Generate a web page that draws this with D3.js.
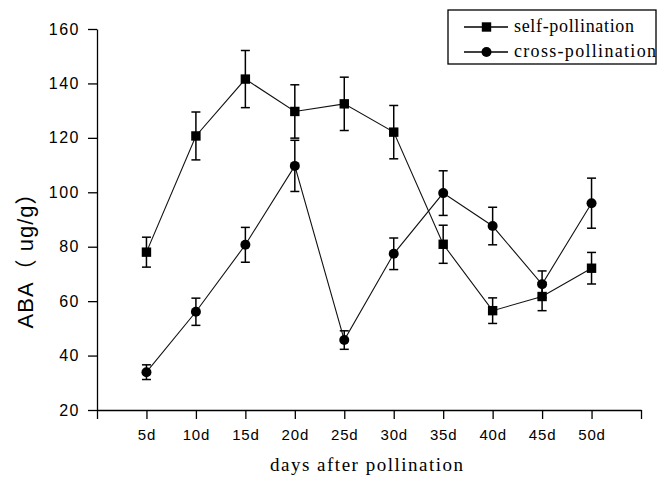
<!DOCTYPE html>
<html>
<head>
<meta charset="utf-8">
<script src="https://cdn.jsdelivr.net/npm/d3@7"></script>
<style>
  html, body { margin: 0; padding: 0; background: #fff; }
  svg { display: block; }
</style>
</head>
<body>
<svg id="chart" width="657" height="477"></svg>
<script>
const categories = ["5d", "10d", "15d", "20d", "25d", "30d", "35d", "40d", "45d", "50d"];
const selfVals  = [78.0, 120.7, 141.6, 129.7, 132.5, 122.1, 80.9, 56.5, 61.7, 72.1];
const selfErr   = [5.5, 8.8, 10.5, 9.8, 9.8, 9.8, 7.0, 4.7, 5.2, 5.8];
const crossVals = [33.9, 56.1, 80.7, 109.7, 45.7, 77.4, 99.7, 87.6, 66.2, 96.0];
const crossErr  = [2.7, 5.0, 6.4, 9.4, 3.4, 5.8, 8.2, 6.9, 4.9, 9.2];
const yTicks = [20, 40, 60, 80, 100, 120, 140, 160];
const seriesNames = ["self-pollination", "cross-pollination"];
const yTitle = "ABA（ ug/g）";
const xTitle = "days after pollination";

const svg = d3.select("#chart");
const sans = "'Liberation Sans', Arial, 'Noto Sans CJK SC', sans-serif";
const serif = "'Liberation Serif', 'Times New Roman', serif";

const x = d3.scaleLinear().domain([0, categories.length + 1]).range([97, 641]);
const y = d3.scaleLinear().domain([20, 160]).range([410, 29]);

// X axis
const xAxis = d3.axisBottom(x)
  .tickValues(d3.range(0, categories.length + 2))
  .tickFormat(i => (i >= 1 && i <= categories.length) ? categories[i - 1] : "")
  .tickSize(9).tickSizeOuter(0).tickPadding(10);
const gx = svg.append("g").attr("transform", `translate(0,${y(20)})`).call(xAxis);
gx.selectAll("path, line").attr("stroke", "#000").attr("stroke-width", 1.3);
gx.selectAll("text").attr("font-family", sans).attr("font-size", 15).attr("fill", "#000")
  .attr("letter-spacing", 0.8);

// Y axis
const yAxis = d3.axisLeft(y).tickValues(yTicks).tickSize(9).tickSizeOuter(0).tickPadding(8);
const gy = svg.append("g").attr("transform", `translate(${x(0)},0)`).call(yAxis);
gy.selectAll("path, line").attr("stroke", "#000").attr("stroke-width", 1.3);
gy.selectAll("text").attr("font-family", sans).attr("font-size", 16).attr("fill", "#000")
  .attr("letter-spacing", 1.5);

// Titles
svg.append("text")
  .attr("transform", `translate(33,255) rotate(-90)`)
  .attr("text-anchor", "middle")
  .attr("font-family", sans).attr("font-size", 22).attr("fill", "#000")
  .attr("letter-spacing", 1)
  .text(yTitle);
svg.append("text")
  .attr("x", 270).attr("y", 471)
  .attr("font-family", serif).attr("font-size", 19).attr("fill", "#000")
  .attr("textLength", 193).attr("lengthAdjust", "spacing")
  .text(xTitle);

// Series
const series = [
  { name: seriesNames[0], vals: selfVals, err: selfErr, shape: "square" },
  { name: seriesNames[1], vals: crossVals, err: crossErr, shape: "circle" }
];
const line = d3.line().x((d, i) => x(i + 1)).y(d => y(d));

series.forEach(s => {
  const g = svg.append("g");
  g.append("path").datum(s.vals).attr("d", line)
    .attr("fill", "none").attr("stroke", "#111").attr("stroke-width", 1.1);
  const eb = g.selectAll(".eb").data(s.vals).enter().append("g");
  eb.append("line")
    .attr("x1", (d, i) => x(i + 1)).attr("x2", (d, i) => x(i + 1))
    .attr("y1", (d, i) => y(d + s.err[i])).attr("y2", (d, i) => y(d - s.err[i]))
    .attr("stroke", "#000").attr("stroke-width", 1.5);
  [1, -1].forEach(sg => {
    eb.append("line")
      .attr("x1", (d, i) => x(i + 1) - 4.5).attr("x2", (d, i) => x(i + 1) + 4.5)
      .attr("y1", (d, i) => y(d + sg * s.err[i])).attr("y2", (d, i) => y(d + sg * s.err[i]))
      .attr("stroke", "#000").attr("stroke-width", 1.5);
  });
  if (s.shape === "square") {
    g.selectAll(".m").data(s.vals).enter().append("rect")
      .attr("x", (d, i) => x(i + 1) - 4.7).attr("y", d => y(d) - 4.7)
      .attr("width", 9.4).attr("height", 9.4).attr("fill", "#000");
  } else {
    g.selectAll(".m").data(s.vals).enter().append("circle")
      .attr("cx", (d, i) => x(i + 1)).attr("cy", d => y(d))
      .attr("r", 5).attr("fill", "#000");
  }
});

// Legend
const lg = svg.append("g");
lg.append("rect").attr("x", 448).attr("y", 10).attr("width", 208).attr("height", 54)
  .attr("fill", "#fff").attr("stroke", "#000").attr("stroke-width", 1.3);
series.forEach((s, k) => {
  const ly = 27 + k * 25;
  lg.append("line").attr("x1", 464).attr("x2", 508).attr("y1", ly).attr("y2", ly)
    .attr("stroke", "#000").attr("stroke-width", 1.3);
  if (s.shape === "square") {
    lg.append("rect").attr("x", 486.5 - 4.7).attr("y", ly - 4.7).attr("width", 9.4).attr("height", 9.4).attr("fill", "#000");
  } else {
    lg.append("circle").attr("cx", 486.5).attr("cy", ly).attr("r", 5).attr("fill", "#000");
  }
  lg.append("text").attr("x", 514).attr("y", ly + 5)
    .attr("font-family", serif).attr("font-size", 18).attr("fill", "#000")
    .attr("textLength", k === 0 ? 120 : 142).attr("lengthAdjust", "spacing")
    .text(s.name);
});
</script>
</body>
</html>
